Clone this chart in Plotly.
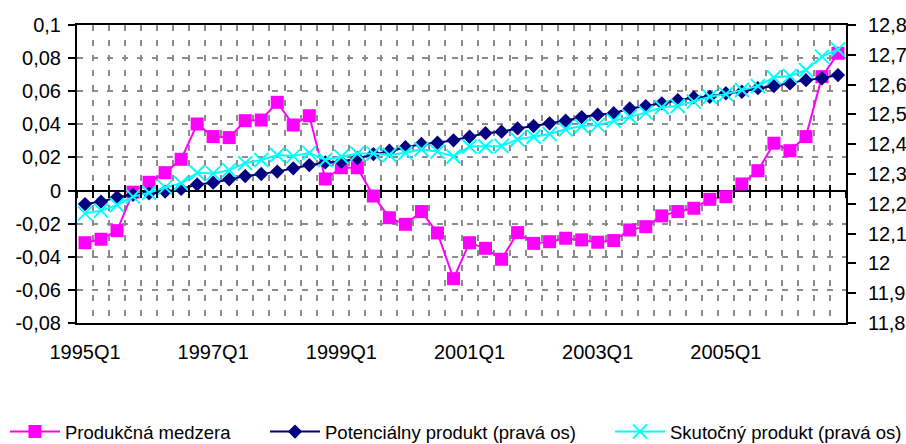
import plotly.graph_objects as go

quarters = [f"{y}Q{q}" for y in range(1995, 2007) for q in range(1, 5)]

gap = [-0.0315, -0.0294, -0.0242, -0.001, 0.005, 0.0108, 0.0189, 0.0402, 0.0326, 0.032,
       0.0422, 0.0426, 0.0533, 0.0396, 0.0452, 0.007, 0.0138, 0.0138, -0.0033, -0.0164,
       -0.0204, -0.0127, -0.0256, -0.0532, -0.0315, -0.0349, -0.0415, -0.0254, -0.0319, -0.0309,
       -0.0288, -0.0298, -0.0312, -0.0302, -0.0238, -0.0218, -0.0153, -0.0127, -0.0107, -0.0053,
       -0.0037, 0.004, 0.012, 0.0286, 0.0241, 0.0326, 0.0688, 0.0829]

potential = [12.199, 12.207, 12.222, 12.230, 12.235, 12.241, 12.250, 12.265, 12.271, 12.282,
             12.293, 12.300, 12.308, 12.319, 12.330, 12.339, 12.341, 12.353, 12.367, 12.378,
             12.390, 12.401, 12.405, 12.413, 12.425, 12.437, 12.442, 12.453, 12.461, 12.470,
             12.479, 12.491, 12.499, 12.504, 12.520, 12.528, 12.537, 12.548, 12.557, 12.559,
             12.571, 12.576, 12.588, 12.595, 12.604, 12.615, 12.621, 12.632]

actual = [12.168, 12.177, 12.196, 12.224, 12.237, 12.255, 12.269, 12.304, 12.302, 12.313,
          12.336, 12.347, 12.364, 12.360, 12.371, 12.347, 12.358, 12.369, 12.369, 12.364,
          12.371, 12.383, 12.375, 12.359, 12.392, 12.392, 12.394, 12.416, 12.425, 12.434,
          12.450, 12.461, 12.464, 12.479, 12.492, 12.506, 12.524, 12.528, 12.543, 12.559,
          12.568, 12.582, 12.595, 12.624, 12.629, 12.649, 12.694, 12.718]

names = ["Produkčná medzera", "Potenciálny produkt (pravá os)", "Skutočný produkt (pravá os)"]

left_ticks = [-0.08, -0.06, -0.04, -0.02, 0, 0.02, 0.04, 0.06, 0.08, 0.1]
left_text = ["-0,08", "-0,06", "-0,04", "-0,02", "0", "0,02", "0,04", "0,06", "0,08", "0,1"]
right_ticks = [11.8, 11.9, 12.0, 12.1, 12.2, 12.3, 12.4, 12.5, 12.6, 12.7, 12.8]
right_text = ["11,8", "11,9", "12", "12,1", "12,2", "12,3", "12,4", "12,5", "12,6", "12,7", "12,8"]
x_text = [q if q.endswith("Q1") and (int(q[:4]) - 1995) % 2 == 0 else "" for q in quarters]

PINK = "#FF00FF"
NAVY = "#000080"
CYAN = "#00FFFF"
GRID = "#8C8C8C"
FONT = "Liberation Sans, Arial, sans-serif"

fig = go.Figure()
fig.add_trace(go.Scatter(x=quarters, y=gap, name=names[0], mode="lines+markers",
                         line=dict(color=PINK, width=2),
                         marker=dict(symbol="square", size=13, color=PINK),
                         xaxis="x", yaxis="y", legend="legend"))
fig.add_trace(go.Scatter(x=quarters, y=potential, name=names[1], mode="lines+markers",
                         line=dict(color=NAVY, width=2),
                         marker=dict(symbol="diamond", size=11, color=NAVY),
                         xaxis="x", yaxis="y2", legend="legend2"))
fig.add_trace(go.Scatter(x=quarters, y=actual, name=names[2], mode="lines+markers",
                         line=dict(color=CYAN, width=2),
                         marker=dict(symbol="x-thin", size=14, color=CYAN,
                                     line=dict(color=CYAN, width=2)),
                         xaxis="x", yaxis="y2", legend="legend3"))
# invisible helper traces that carry the crossing tick marks on the zero line
for ax in ("x2", "x3"):
    fig.add_trace(go.Scatter(x=quarters, y=gap, mode="markers", marker=dict(size=1, opacity=0),
                             showlegend=False, hoverinfo="skip",
                             xaxis=ax, yaxis="y"))

zero_pos = 0.08 / 0.18
cat_common = dict(type="category", categoryorder="array", categoryarray=quarters,
                  range=[-0.5, len(quarters) - 0.5], tickson="boundaries",
                  tickmode="array", tickvals=quarters, automargin=False)

legend_common = dict(orientation="h", xref="container", yref="container",
                     xanchor="left", y=1 - 432 / 444, yanchor="middle",
                     font=dict(family=FONT, size=18.5, color="black"),
                     itemwidth=50, bgcolor="rgba(0,0,0,0)")

fig.update_layout(
    width=906, height=444,
    margin=dict(l=77, r=60, t=25, b=121, autoexpand=False),
    paper_bgcolor="white", plot_bgcolor="white",
    font=dict(family=FONT, size=20, color="black"),
    xaxis=dict(**cat_common, ticktext=x_text, ticks="", showgrid=True, tickangle=0,
               gridcolor=GRID, gridwidth=2, griddash="6px,9px",
               showline=True, linecolor="black", linewidth=2, mirror=True,
               ticklabelstandoff=10, zeroline=False),
    xaxis2=dict(**cat_common, overlaying="x", anchor="free", position=zero_pos,
                showticklabels=False, ticks="outside", ticklen=6, tickwidth=2,
                tickcolor="black", showgrid=False, showline=False, zeroline=False,
                layer="above traces"),
    xaxis3=dict(**cat_common, overlaying="x", anchor="free", position=zero_pos,
                showticklabels=False, ticks="inside", ticklen=6, tickwidth=2,
                tickcolor="black", showgrid=False, showline=False, zeroline=False,
                layer="above traces"),
    yaxis=dict(range=[-0.08, 0.1], tickmode="array", tickvals=left_ticks, ticktext=left_text,
               ticks="outside", ticklen=7, tickwidth=2, tickcolor="black", automargin=False,
               showgrid=True, gridcolor=GRID, gridwidth=2, griddash="6px,9px",
               zeroline=True, zerolinecolor="black", zerolinewidth=2,
               showline=True, linecolor="black", linewidth=2, mirror=True,
               ticklabelstandoff=3),
    yaxis2=dict(range=[11.8, 12.8], overlaying="y", side="right", anchor="x",
                tickmode="array", tickvals=right_ticks, ticktext=right_text, automargin=False,
                ticks="outside", ticklen=8, tickwidth=2, tickcolor="black",
                showgrid=False, zeroline=False, showline=True, linecolor="black",
                linewidth=2, ticklabelstandoff=8),
    legend=dict(**legend_common, x=5 / 906),
    legend2=dict(**legend_common, x=265 / 906),
    legend3=dict(**legend_common, x=610 / 906),
    showlegend=True,
)

fig.write_html("out.html")
